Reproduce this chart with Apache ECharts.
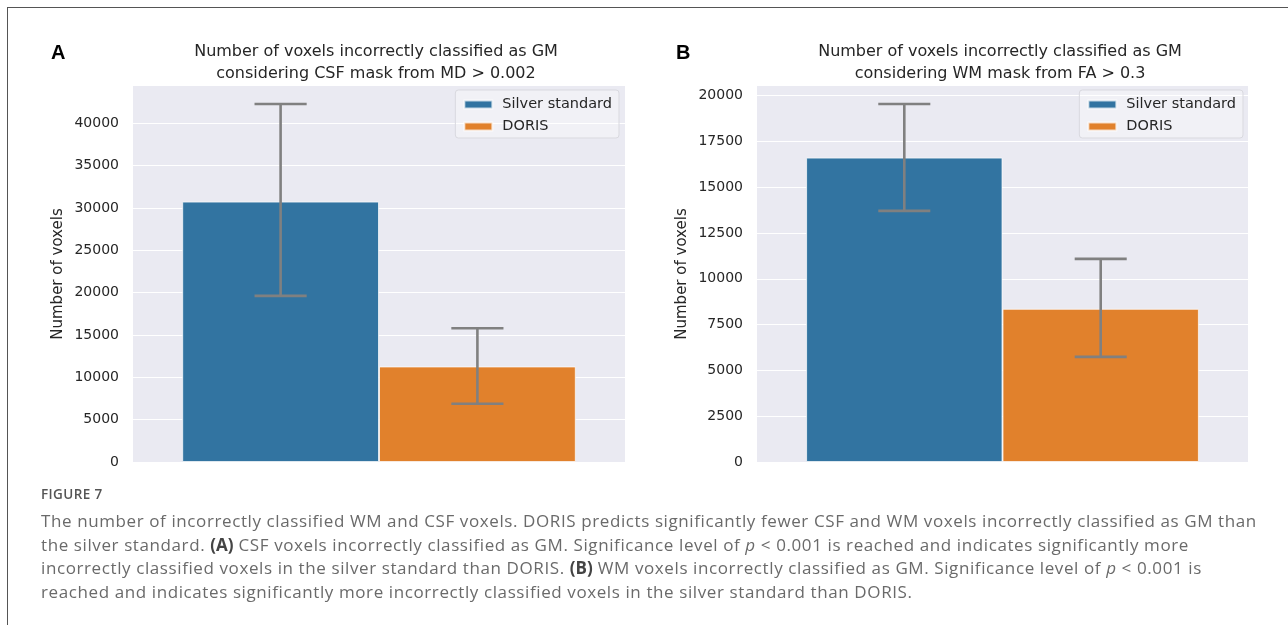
<!DOCTYPE html>
<html>
<head>
<meta charset="utf-8">
<script src="https://cdn.jsdelivr.net/npm/echarts@6/dist/echarts.min.js"></script>
<style>
  html, body { margin: 0; padding: 0; background: #fff; }
  #wrap { position: relative; width: 1288px; height: 625px; overflow: hidden; }
  #chart { position: absolute; left: 0; top: 0; width: 1288px; height: 625px; }
  #frameTop { position: absolute; left: 7px; top: 7px; width: 1281px; height: 0; border-top: 1.5px solid #555; }
  #frameLeft { position: absolute; left: 7px; top: 7px; width: 0; height: 618px; border-left: 1.5px solid #555; }
  #figlabel { position: absolute; left: 41px; top: 485px; font-family: "Open Sans", sans-serif; font-size: 13.5px; font-weight: 600; color: #555; letter-spacing: 0.4px; }
  #caption { position: absolute; left: 41px; top: 509px; width: 1240px; font-family: "Open Sans", sans-serif; font-size: 17px; font-weight: 400; letter-spacing: 0.6px; line-height: 23.5px; color: #6a6a6a; white-space: nowrap; }
  #caption b { color: #444; font-weight: 700; letter-spacing: 0; }
</style>
</head>
<body>
<div id="wrap">
  <div id="chart"></div>
  <div id="frameTop"></div>
  <div id="frameLeft"></div>
  <div id="figlabel">FIGURE 7</div>
  <div id="caption">The number of incorrectly classified WM and CSF voxels. DORIS predicts significantly fewer CSF and WM voxels incorrectly classified as GM than<br>the silver standard. <b>(A)</b> CSF voxels incorrectly classified as GM. Significance level of <i>p</i> &lt; 0.001 is reached and indicates significantly more<br>incorrectly classified voxels in the silver standard than DORIS. <b>(B)</b> WM voxels incorrectly classified as GM. Significance level of <i>p</i> &lt; 0.001 is<br>reached and indicates significantly more incorrectly classified voxels in the silver standard than DORIS.</div>
</div>
<script>
// ---- data ----
const categories = [''];
const seriesNames = ['Silver standard', 'DORIS'];
const csfMean = [30750, 11280];
const csfLow = [19620, 6880];
const csfHigh = [42280, 15790];
const wmMean = [16620, 8365];
const wmLow = [13710, 5740];
const wmHigh = [19550, 11090];
const titleA = 'Number of voxels incorrectly classified as GM\nconsidering CSF mask from MD > 0.002';
const titleB = 'Number of voxels incorrectly classified as GM\nconsidering WM mask from FA > 0.3';
const yName = 'Number of voxels';

const colors = ['#3274a1', '#e1812c'];
const font = '"DejaVu Sans", sans-serif';

const chart = echarts.init(document.getElementById('chart'), null, { renderer: 'canvas' });

function yAxis(gi, max, interval) {
  return {
    type: 'value', gridIndex: gi, min: 0, max: max, interval: interval,
    name: yName, nameLocation: 'middle', nameGap: 67,
    nameTextStyle: { fontFamily: font, fontSize: 15, color: '#262626' },
    axisLine: { show: false }, axisTick: { show: false },
    axisLabel: { fontFamily: font, fontSize: 14, color: '#262626', margin: 14, showMaxLabel: false,
      formatter: v => (v % interval === 0 ? String(v) : '') },
    splitLine: { show: true, showMaxLine: false, lineStyle: { color: '#ffffff', width: 1.2 } }
  };
}
function xAxis(gi) {
  return {
    type: 'category', gridIndex: gi, data: categories,
    axisLine: { show: false }, axisTick: { show: false }, axisLabel: { show: false },
    splitLine: { show: false }
  };
}
function bars(gi, means) {
  return seriesNames.map((n, i) => ({
    name: n, type: 'bar', xAxisIndex: gi, yAxisIndex: gi,
    data: [means[i]], barGap: '0%', barCategoryGap: '20%',
    itemStyle: { color: colors[i], borderColor: 'rgba(255,255,255,0.7)', borderWidth: 1 },
    emphasis: { disabled: true }, z: 2
  }));
}
function errs(gi, low, high) {
  return {
    type: 'custom', xAxisIndex: gi, yAxisIndex: gi, z: 5, silent: true,
    data: low.map((l, i) => [0, l, high[i], i]),
    renderItem: function (params, api) {
      const idx = api.value(3);
      const catW = api.size([1, 0])[0];
      const off = (idx - 0.5) * 0.4 * catW;
      const pLo = api.coord([api.value(0), api.value(1)]);
      const pHi = api.coord([api.value(0), api.value(2)]);
      const x = pLo[0] + off;
      const cap = 0.053 * catW;
      const style = { stroke: '#808080', lineWidth: 2.6 };
      return {
        type: 'group', children: [
          { type: 'line', shape: { x1: x, y1: pLo[1], x2: x, y2: pHi[1] }, style: style },
          { type: 'line', shape: { x1: x - cap, y1: pLo[1], x2: x + cap, y2: pLo[1] }, style: style },
          { type: 'line', shape: { x1: x - cap, y1: pHi[1], x2: x + cap, y2: pHi[1] }, style: style }
        ]
      };
    }
  };
}
function legend(right) {
  return {
    data: seriesNames, orient: 'vertical', right: right, top: 90,
    itemWidth: 28, itemHeight: 8, itemGap: 7, selectedMode: false,
    padding: [7, 7, 4, 8],
    backgroundColor: 'rgba(255,255,255,0.35)', borderColor: '#d9d9df', borderWidth: 1, borderRadius: 3,
    icon: 'rect',
    textStyle: { fontFamily: font, fontSize: 14.5, color: '#262626', padding: [0, 0, 0, 5] }
  };
}

chart.setOption({
  animation: false,
  color: colors,
  title: [
    { text: titleA, left: 371, top: 36, textAlign: 'center',
      textStyle: { fontFamily: font, fontSize: 16, fontWeight: 'normal', color: '#262626', lineHeight: 22 } },
    { text: titleB, left: 995, top: 36, textAlign: 'center',
      textStyle: { fontFamily: font, fontSize: 16, fontWeight: 'normal', color: '#262626', lineHeight: 22 } }
  ],
  grid: [
    { left: 133, right: 663, top: 86, bottom: 163, show: true, backgroundColor: '#eaeaf2', borderWidth: 0 },
    { left: 757, right: 40, top: 86, bottom: 163, show: true, backgroundColor: '#eaeaf2', borderWidth: 0 }
  ],
  xAxis: [xAxis(0), xAxis(1)],
  yAxis: [yAxis(0, 44400, 5000), yAxis(1, 20530, 2500)],
  legend: [legend(669), legend(45)],
  graphic: [
    { type: 'text', left: 51, top: 43, style: { text: 'A', fontFamily: '"Liberation Sans", Arial, sans-serif', fontSize: 20, fontWeight: 'bold', fill: '#000' } },
    { type: 'text', left: 676, top: 43, style: { text: 'B', fontFamily: '"Liberation Sans", Arial, sans-serif', fontSize: 20, fontWeight: 'bold', fill: '#000' } }
  ],
  series: [].concat(bars(0, csfMean), [errs(0, csfLow, csfHigh)], bars(1, wmMean), [errs(1, wmLow, wmHigh)])
});
</script>
</body>
</html>
